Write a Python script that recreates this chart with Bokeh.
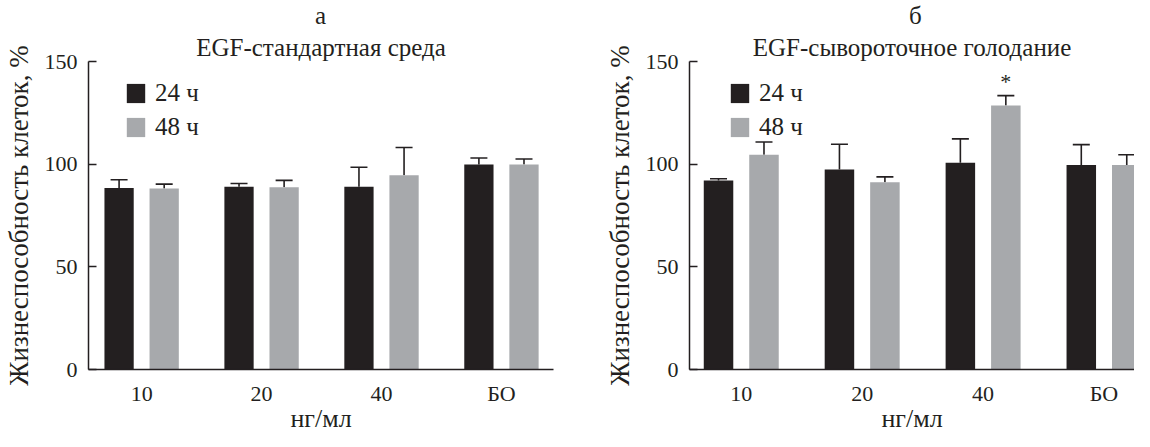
from bokeh.plotting import figure
from bokeh.models import (Range1d, FixedTicker, Whisker, TeeHead, ColumnDataSource,
                          Legend, LegendItem, Title)
from bokeh.layouts import row
from bokeh.embed import file_html
from bokeh.resources import INLINE
from bokeh.core.properties import value

# ---- data ----
categories = ["10", "20", "40", "БО"]
series_labels = ["24 ч", "48 ч"]

a_24 = [88.4, 89.0, 89.0, 99.8]
a_24_err = [4.0, 1.6, 9.5, 3.2]
a_48 = [88.1, 88.7, 94.6, 99.8]
a_48_err = [2.2, 3.4, 13.5, 2.7]

b_24 = [92.1, 97.4, 100.7, 99.6]
b_24_err = [0.8, 12.3, 11.6, 9.9]
b_48 = [104.6, 91.2, 128.6, 99.6]
b_48_err = [6.2, 2.6, 4.8, 5.0]

b_significant_48 = [2]  # index marked with *

y_ticks = [0, 50, 100, 150]
x_label = "нг/мл"
y_label = "Жизнеспособность клеток, %"

# ---- style ----
FONT = "Liberation Serif, serif"
DARK = "#231f20"
GRAY = "#a7a9ac"
OFF = 0.188
BW = 0.244
H = 431
TOP = 58
BOTTOM = 62
NBSP = "\u00a0"


def make_panel(letter, title, letter_pad, v24, e24, v48, e48, width, bl, br, xs, xe,
               legend_x, stars=()):
    p = figure(width=width, height=H, x_range=Range1d(xs, xe), y_range=Range1d(0, 150),
               output_backend="svg", toolbar_location=None,
               min_border_left=bl, min_border_right=br, min_border_top=TOP,
               min_border_bottom=BOTTOM,
               outline_line_color=None, background_fill_color="white", border_fill_color="white")
    p.xgrid.visible = False
    p.ygrid.visible = False

    pos = list(range(len(categories)))
    s24 = ColumnDataSource(dict(x=[i - OFF for i in pos], top=v24,
                                upper=[v + e for v, e in zip(v24, e24)]))
    s48 = ColumnDataSource(dict(x=[i + OFF for i in pos], top=v48,
                                upper=[v + e for v, e in zip(v48, e48)]))
    r24 = p.vbar(x="x", top="top", bottom=0, width=BW, source=s24,
                 fill_color=DARK, line_color=None)
    r48 = p.vbar(x="x", top="top", bottom=0, width=BW, source=s48,
                 fill_color=GRAY, line_color=None)
    for s in (s24, s48):
        w = Whisker(source=s, base="x", lower="top", upper="upper",
                    upper_head=TeeHead(size=17, line_width=1.6, line_color=DARK),
                    lower_head=None, line_width=1.6, line_color=DARK)
        p.add_layout(w)

    if stars:
        p.text(x=[i + OFF for i in stars], y=[v48[i] + e48[i] + 7 for i in stars],
               text=["*"] * len(stars), text_font=value(FONT), text_font_size="22px",
               text_align="center", text_baseline="alphabetic", text_color=DARK)

    # axes
    p.yaxis.ticker = FixedTicker(ticks=y_ticks)
    p.xaxis.ticker = FixedTicker(ticks=pos)
    p.xaxis.major_label_overrides = {i: c for i, c in enumerate(categories)}
    for ax in (p.xaxis[0], p.yaxis[0]):
        ax.axis_line_color = DARK
        ax.axis_line_width = 1.5
        ax.minor_tick_line_color = None
        ax.major_label_text_font = FONT
        ax.major_label_text_font_size = "22px"
        ax.major_label_text_color = DARK
        ax.axis_label_text_font = FONT
        ax.axis_label_text_font_style = "normal"
        ax.axis_label_text_color = DARK
    p.yaxis.major_tick_in = 8
    p.yaxis.major_tick_out = 0
    p.yaxis.major_tick_line_color = DARK
    p.yaxis.major_tick_line_width = 1.5
    p.yaxis.major_label_standoff = 11
    p.yaxis.axis_label = y_label
    p.yaxis.axis_label_text_font_size = "27px"
    p.yaxis.axis_label_standoff = 8
    p.xaxis.major_tick_line_color = None
    p.xaxis.major_tick_in = 0
    p.xaxis.major_tick_out = 0
    p.xaxis.major_label_standoff = 11

    # x-axis title as a bottom title panel
    p.add_layout(Title(text=x_label, align="center", text_font=FONT, text_font_size="26px",
                       text_font_style="normal", text_color=DARK, standoff=-14,
                       vertical_align="bottom"), "below")

    # panel letter and title, both centred over the frame
    p.title.text = NBSP * letter_pad + letter + "\n" + title
    p.title.align = "center"
    p.title.text_font = FONT
    p.title.text_font_size = "25px"
    p.title.text_font_style = "normal"
    p.title.text_color = DARK
    p.title.text_line_height = 1.2
    p.title.standoff = 0

    legend = Legend(items=[LegendItem(label=series_labels[0], renderers=[r24]),
                           LegendItem(label=series_labels[1], renderers=[r48])],
                    location=(legend_x, 228),
                    glyph_width=23, glyph_height=24, label_height=24, spacing=6,
                    padding=0, margin=0, label_standoff=8,
                    label_text_font=FONT, label_text_font_size="25px", label_text_color=DARK,
                    border_line_color=None, background_fill_alpha=0)
    p.add_layout(legend)
    return p


p1 = make_panel("а", "EGF-стандартная среда", 19, a_24, a_24_err, a_48, a_48_err,
                width=567, bl=85, br=14, xs=-0.443, xe=3.434, legend_x=36)
p2 = make_panel("б", "EGF-сывороточное голодание", 25, b_24, b_24_err, b_48, b_48_err,
                width=567, bl=122, br=0, xs=-0.428, xe=3.252, legend_x=39,
                stars=b_significant_48)

layout = row(p1, p2)
open("out.html", "w").write(file_html(layout, INLINE))
